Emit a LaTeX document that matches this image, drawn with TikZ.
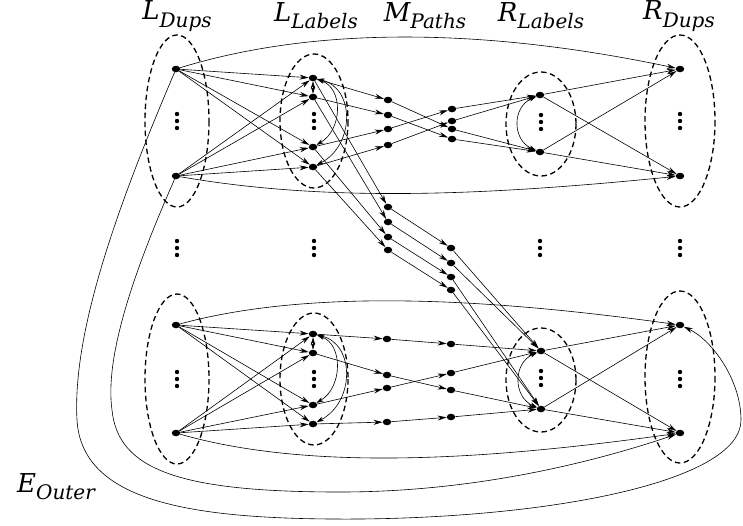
\documentclass[tikz,border=0pt]{standalone}
\usepackage{amsmath}
\usepackage{fontspec}
\usepackage{tikz}
\usetikzlibrary{arrows.meta,positioning,calc,shapes.geometric}
\newfontfamily\lblfont{DejaVu Serif}
\newcommand{\setname}[2]{#1\raisebox{-0.28em}{\fontsize{20}{20}\selectfont #2}}

\tikzset{
  vtx/.style={ellipse,fill=black,inner sep=0pt,minimum width=8.5pt,minimum height=6.5pt},
  link/.style={-{Stealth[length=9pt,width=5pt,inset=3pt]},line width=0.6pt},
  dlink/.style={{Stealth[length=7pt,width=4.5pt,inset=2pt]}-{Stealth[length=7pt,width=4.5pt,inset=2pt]},line width=0.6pt},
  grp/.style={draw,line width=1.3pt,dash pattern=on 5.5pt off 3.5pt},
  lbl/.style={font=\fontsize{26}{30}\selectfont\lblfont\itshape}
}

\begin{document}
\begin{tikzpicture}[x=1pt,y=-1pt]
        \useasboundingbox (0,0) rectangle (743,525);

        % Dashed groups
        \foreach \cx/\cy/\rx/\ry in {177/121/32/86, 314/121/34/67, 541/124/35/52, 680/121/35/86,
                                     177/379/32/85, 314/379/34/66, 541/380/35/52, 680/377/35/86} {
            \draw[grp] (\cx,\cy) ellipse ({\rx} and {\ry});
        }

        % Vertical dots
        \foreach \x/\y in {177/121, 314/121, 541/122, 680/121, 177/248, 314/248, 540/248, 680/248,
                           177/379, 314/379, 541/378, 680/379} {
            \foreach \d in {-7,0,7}
                \fill (\x,\y+\d) circle (2.2);
        }

        % Column titles
        \node[lbl] (tLD) at (177,16) {\setname{L}{Dups}};
        \node[lbl] (tLL) at (316,16) {\setname{L}{Labels}};
        \node[lbl] (tMP) at (425,16) {\setname{M}{Paths}};
        \node[lbl] (tRL) at (541,16) {\setname{R}{Labels}};
        \node[lbl] (tRD) at (679,16) {\setname{R}{Dups}};
        \node[lbl] (tEO) at (56,487) {\setname{E}{Outer}};

        % Upper block
        \node[vtx] (Lt1) at (176,69) {};
        \node[vtx] (Lt2) at (176,176) {};
        \foreach \i/\y in {1/78,2/97,3/147,4/167} \node[vtx] (LLt\i) at (313,\y) {};
        \foreach \i/\y in {1/100,2/115,3/129,4/145} \node[vtx] (Mt\i) at (388,\y) {};
        \foreach \i/\y in {1/109,2/121,3/129,4/139} \node[vtx] (Nt\i) at (452,\y) {};
        \node[vtx] (RLt1) at (540,95) {};
        \node[vtx] (RLt2) at (540,152) {};
        \node[vtx] (Rt1) at (680,69) {};
        \node[vtx] (Rt2) at (680,176) {};

        % Paths through the middle
        \foreach \i/\y in {1/207,2/222,3/237,4/250} \node[vtx] (Mm\i) at (388,\y) {};
        \foreach \i/\y in {1/248,2/263,3/277,4/290} \node[vtx] (Nm\i) at (451,\y) {};

        % Lower block
        \node[vtx] (Lb1) at (176,325) {};
        \node[vtx] (Lb2) at (176,433) {};
        \foreach \i/\y in {1/334,2/353,3/405,4/424} \node[vtx] (LLb\i) at (313,\y) {};
        \foreach \i/\y in {1/339,2/375,3/388,4/422} \node[vtx] (Mb\i) at (387,\y) {};
        \foreach \i/\y in {1/344,2/373,3/390,4/417} \node[vtx] (Nb\i) at (451,\y) {};
        \node[vtx] (RLb1) at (541,351) {};
        \node[vtx] (RLb2) at (541,409) {};
        \node[vtx] (Rb1) at (680,325) {};
        \node[vtx] (Rb2) at (680,433) {};

        % Dups to labels
        \foreach \s in {1,2} {
            \foreach \t in {1,...,4} {
                \draw[link] (Lt\s) -- (LLt\t);
                \draw[link] (Lb\s) -- (LLb\t);
            }
        }

        % Labels to paths
        \foreach \i in {1,...,4} {
            \draw[link] (LLt\i) -- (Mt\i);
            \draw[link] (LLt\i) -- (Mm\i);
            \draw[link] (LLb\i) -- (Mb\i);
            \draw[link] (Mm\i) -- (Nm\i);
        }
        \foreach \a/\b in {1/3,2/4,3/1,4/2} \draw[link] (Mt\a) -- (Nt\b);
        \foreach \a/\b in {1/1,2/3,3/2,4/4} \draw[link] (Mb\a) -- (Nb\b);

        % Paths to right labels
        \foreach \a/\b in {1/1,2/1,3/2,4/2} {
            \draw[link] (Nt\a) -- (RLt\b);
            \draw[link] (Nm\a) -- (RLb\b);
            \draw[link] (Nb\a) -- (RLb\b);
        }

        % Right labels to dups
        \foreach \a in {1,2} {
            \foreach \b in {1,2} {
                \draw[link] (RLt\a) -- (Rt\b);
                \draw[link] (RLb\a) -- (Rb\b);
            }
        }

        % Inside the label sets
        \draw[dlink] (LLt1) -- (LLt2);
        \draw[dlink] (LLt1) .. controls +(30,10) and +(30,-18) .. (LLt3);
        \draw[dlink] (LLt1) .. controls +(42,10) and +(42,-22) .. (LLt4);
        \draw[dlink] (LLb1) -- (LLb2);
        \draw[dlink] (LLb1) .. controls +(30,10) and +(30,-18) .. (LLb3);
        \draw[dlink] (LLb1) .. controls +(42,10) and +(42,-22) .. (LLb4);
        \draw[dlink] (RLt1) .. controls +(-28,12) and +(-28,-12) .. (RLt2);
        \draw[dlink] (RLb1) .. controls +(-28,12) and +(-28,-12) .. (RLb2);

        % Dups straight across
        \draw[link] (Lt1) .. controls +(150,-46) and +(-180,-38) .. (Rt1);
        \draw[link] (Lt2) .. controls +(150,26) and +(-200,20) .. (Rt2);
        \draw[link] (Lb1) .. controls +(140,-38) and +(-180,-25) .. (Rb1);
        \draw[link] (Lb2) .. controls +(140,40) and +(-180,25) .. (Rb2);

        % Outer edges
        \draw[link] (Lt2) .. controls (130,280) and (105,360) .. (112,410)
            .. controls (118,470) and (180,492) .. (340,492)
            .. controls (480,492) and (600,460) .. (Rb2);
        \draw[link] (Lt1) .. controls (120,200) and (72,330) .. (77,420)
            .. controls (82,505) and (200,520) .. (360,519)
            .. controls (560,517) and (741,480) .. (741,420)
            .. controls (741,380) and (712,340) .. (Rb1);

    \end{tikzpicture}
\end{document}
